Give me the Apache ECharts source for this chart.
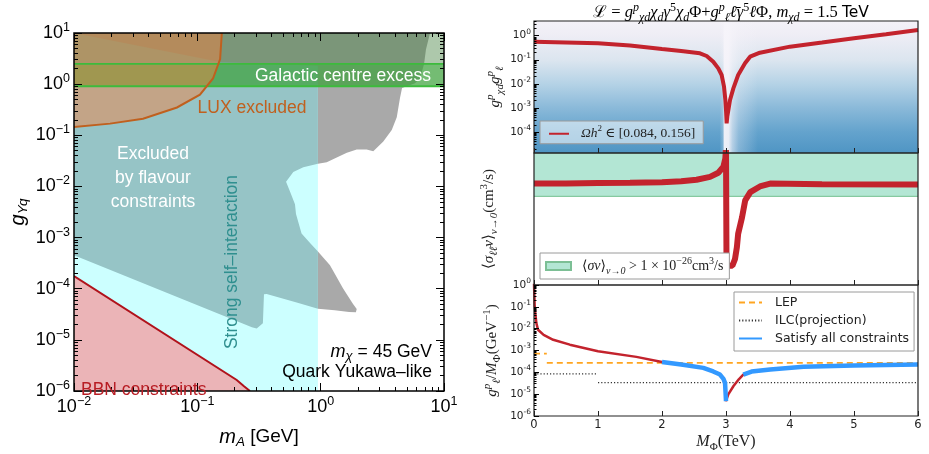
<!DOCTYPE html>
<html>
<head>
<meta charset="utf-8">
<script src="https://cdn.jsdelivr.net/npm/echarts@6.0.0/dist/echarts.min.js"></script>
<style>
html,body{margin:0;padding:0;background:#fff;}
#chart{width:929px;height:454px;}
</style>
</head>
<body>
<div id="chart"></div>
<script>
// ===================== LEFT PANEL DATA: (m_A [GeV], g_Yq) =====================
const selfInteractionRegion = [[0.01,1e-6],[0.95,1e-6],[0.95,10],[0.01,10]];
const grayRegion = [[0.01,10],[7.70,10],[7.14,4.77],[6.89,2.48],[6.39,1.29],[5.82,1.04],[4.57,0.836],[4.40,0.54],[4.14,0.226],[3.77,0.127],[3.22,0.076],[2.67,0.049],[2.36,0.053],[1.96,0.053],[1.63,0.0457],[1.35,0.0367],[1.12,0.0296],[0.95,0.0279],[0.95,1],[0.01,1]];
const grayTongue = [[0.95,5.37e-4],[1.19,2.88e-4],[1.52,1.01e-4],[1.83,5.05e-5],[1.96,4.0e-5],[1.93,3.45e-5],[1.7,3.5e-5],[1.3,3.8e-5],[0.95,4.05e-5]];
const flavourRegion = [[0.01,10],[0.153,2.71],[0.95,2.3],[0.95,0.0279],[0.723,0.0238],[0.600,0.0191],[0.524,0.01237],[0.564,0.0080],[0.619,0.00448],[0.631,0.0029],[0.70,0.0012],[0.82,0.000785],[0.95,0.000537],[0.95,4.05e-5],[0.639,5.35e-5],[0.365,7.9e-5],[0.347,7.8e-5],[0.340,2.11e-5],[0.303,1.67e-5],[0.277,1.77e-5],[0.01,4.52e-4]];
const bbnRegion = [[0.01,1e-6],[0.01,1.76e-4],[0.2086,1.64e-6],[0.239,1.24e-6],[0.267,1e-6]];
const luxRegion = [[0.01,10],[0.01,0.146],[0.0196,0.169],[0.0363,0.21],[0.0684,0.35],[0.105,0.624],[0.134,1.29],[0.153,3.08],[0.158,10]];
const gcUpper = [[0.01,0.91],[10,0.91],[10,10],[0.01,10]];
const gcBand = [[0.01,0.91],[10,0.91],[10,2.48],[0.01,2.48]];
const gcBandLow = [[0.01,0.91],[10,0.91]];
const gcBandHigh = [[0.01,2.48],[10,2.48]];

// ===================== RIGHT PANELS DATA: M_Phi [TeV] =====================
const relicCurve = [[0,0.56],[0.5,0.52],[1,0.48],[1.5,0.39],[2,0.28],[2.3,0.23],[2.593,0.186],[2.698,0.1435],[2.801,0.083],[2.88,0.044],[2.932,0.0233],[2.969,0.0076],[2.99,0.00214],[3.0,8.2e-4],[3.01,2.3e-4],[3.02,4.3e-4],[3.063,0.00214],[3.115,0.0065],[3.19,0.0233],[3.297,0.0714],[3.376,0.134],[3.53,0.197],[4,0.35],[4.5,0.52],[5,0.78],[5.5,1.15],[6,1.72]];
const sigmaCurve = [[0,2.45e-26],[0.5,2.45e-26],[1,2.55e-26],[1.5,2.6e-26],[2,2.7e-26],[2.3,2.9e-26],[2.54,3.2e-26],[2.75,3.9e-26],[2.88,5.2e-26],[2.96,7.9e-26],[2.99,1.4e-25],[3.0,3e-25],[3.008,8e-29],[3.1,8e-29],[3.14,1.26e-28],[3.17,2.9e-28],[3.19,7.4e-28],[3.25,2.3e-27],[3.30,7.6e-27],[3.38,1.35e-26],[3.53,2.0e-26],[3.69,2.45e-26],[4.5,2.35e-26],[6,2.3e-26]];
const sigmaThreshold = [[0,1e-26],[6,1e-26]];
const sigmaRegion = [[0,1e-26],[6,1e-26],[6,2.06e-25],[0,2.06e-25]];
const couplingCurve = [[0,1.2],[0.01,0.12],[0.02,0.051],[0.037,0.018],[0.063,0.0089],[0.15,0.0052],[0.3,0.0031],[0.56,0.00185],[1.0,9.2e-4],[1.6,5.1e-4],[2.0,3.0e-4],[2.3,2.3e-4],[2.645,1.6e-4],[2.8,1.1e-4],[2.906,7.9e-5],[2.96,5e-5],[2.985,3.3e-5],[3.0,4.8e-6],[3.036,9.8e-6],[3.115,2.3e-5],[3.2,4.8e-5],[3.27,7.9e-5],[3.4,1.08e-4],[3.69,1.35e-4],[4.21,1.78e-4],[5,2.05e-4],[6,2.26e-4]];
const satisfyLow = [[2.0,3.0e-4],[2.3,2.3e-4],[2.645,1.6e-4],[2.8,1.1e-4],[2.906,7.9e-5],[2.96,5e-5],[2.985,3.3e-5],[3.0,4.8e-6]];
const satisfyHigh = [[3.27,7.9e-5],[3.4,1.08e-4],[3.69,1.35e-4],[4.21,1.78e-4],[5,2.05e-4],[6,2.26e-4]];
const lepLow = [[0,7.2e-4],[0.2,7.2e-4]];
const lepHigh = [[0.2,2.7e-4],[6,2.7e-4]];
const ilcLow = [[0,8.5e-5],[1,8.5e-5]];
const ilcHigh = [[1,3.4e-5],[6,3.4e-5]];

// ===================== TICKS =====================
const leftXTicks = [0.01,0.1,1,10];
const leftYTicks = [1e-6,1e-5,1e-4,1e-3,1e-2,1e-1,1,10];
const p1YTicks = [1e-4,1e-3,1e-2,1e-1,1];
const p2YTicks = [1e-28,1e-27,1e-26,1e-25];
const p3YTicks = [1e-6,1e-5,1e-4,1e-3,1e-2,1e-1,1];

const P1 = {min:1.345e-5, max:4.07};
const P2 = {min:2.09e-29, max:2.06e-25};
const P3 = {min:1e-6, max:1};

const RELIC = 'Ωh² ∈ [0.084, 0.156]';
const SIGMA = '⟨σv⟩ v→0 > 1 × 10⁻²⁶ cm³/s';
const LEP = 'LEP', ILC = 'ILC(projection)', SAT = 'Satisfy all constraints';

const FS = 'Liberation Sans, Arial, sans-serif';
const MS = 'Liberation Serif, DejaVu Serif, serif';
const DJ = 'DejaVu Sans, sans-serif';

function minorVals(lo, hi, min, max) {
  const out = [];
  for (let e = lo; e < hi; e++) for (let k = 2; k <= 9; k++) {
    const v = k * Math.pow(10, e);
    if (v > min * 1.0001 && v < max * 0.9999) out.push(v);
  }
  return out;
}
function expStr(v, minus) { const e = Math.round(Math.log10(v)); return e < 0 ? minus + (-e) : String(e); }

const richL = {
  b: {fontFamily: FS, fontSize: 18, lineHeight: 24, color: '#000'},
  s: {fontFamily: FS, fontSize: 12.5, lineHeight: 12, verticalAlign: 'top', color: '#000'}
};
const richR = {
  b: {fontFamily: DJ, fontSize: 10.5, lineHeight: 16, color: '#222'},
  s: {fontFamily: DJ, fontSize: 7.5, lineHeight: 8, verticalAlign: 'top', color: '#222'}
};
const nameRichL = {
  i: {fontFamily: FS, fontStyle: 'italic', fontSize: 20, lineHeight: 24, color: '#000'},
  r: {fontFamily: FS, fontSize: 19, lineHeight: 24, color: '#000'},
  sub: {fontFamily: FS, fontStyle: 'italic', fontSize: 13.5, lineHeight: 14, verticalAlign: 'bottom', color: '#000'}
};
function mathRich(size, color) {
  const c = color || '#222';
  const s = Math.round(size * 0.7);
  return {
    i: {fontFamily: MS, fontStyle: 'italic', fontSize: size, lineHeight: size + 6, color: c},
    r: {fontFamily: MS, fontSize: size, lineHeight: size + 6, color: c},
    t: {fontFamily: DJ, fontSize: size - 1, lineHeight: size + 6, color: c},
    sup: {fontFamily: MS, fontStyle: 'italic', fontSize: s, lineHeight: s, verticalAlign: 'top', color: c},
    rsup: {fontFamily: MS, fontSize: s, lineHeight: s, verticalAlign: 'top', color: c},
    sub: {fontFamily: MS, fontStyle: 'italic', fontSize: s, lineHeight: s, verticalAlign: 'bottom', color: c},
    rsub: {fontFamily: MS, fontSize: s, lineHeight: s, verticalAlign: 'bottom', color: c}
  };
}

function regionSeries(points, fill, edges, stroke, lw, xi, yi) {
  return {
    type: 'custom', xAxisIndex: xi || 0, yAxisIndex: yi || 0, silent: true, clip: true,
    data: [points[0]],
    renderItem: function (params, api) {
      const children = [];
      if (fill) children.push({type: 'polygon', shape: {points: points.map(p => api.coord(p))}, style: {fill: fill}});
      (edges || []).forEach(e => children.push({
        type: 'polyline', shape: {points: e.map(p => api.coord(p))},
        style: {stroke: stroke, lineWidth: lw, fill: null}
      }));
      return {type: 'group', children: children};
    }
  };
}

function tickAxis(base, values, len, labels) {
  return Object.assign({
    z: 11, splitLine: {show: false}, axisLine: {show: false},
    axisTick: {show: true, inside: true, length: len, customValues: values, lineStyle: {color: '#000', width: 1}},
    axisLabel: labels || {show: false}
  }, base);
}

const leftX = {type: 'log', logBase: 10, gridIndex: 0, min: 0.01, max: 10};
const leftY = {type: 'log', logBase: 10, gridIndex: 0, min: 1e-6, max: 10};
const lxMinor = minorVals(-2, 1, 0.01, 10);
const lyMinor = minorVals(-6, 1, 1e-6, 10);

const xAxes = [
  tickAxis(Object.assign({}, leftX, {position: 'bottom',
    name: '{i|m}{sub|A}{r| [GeV]}', nameLocation: 'middle', nameGap: 34,
    nameTextStyle: {rich: nameRichL}}), leftXTicks, 8,
    {show: true, customValues: leftXTicks, margin: 4, formatter: v => '{b|10}{s|' + expStr(v, '−') + '}', rich: richL}),
  tickAxis(Object.assign({}, leftX, {position: 'bottom'}), lxMinor, 4),
  tickAxis(Object.assign({}, leftX, {position: 'top'}), leftXTicks, 8),
  tickAxis(Object.assign({}, leftX, {position: 'top'}), lxMinor, 4),
  {type: 'value', gridIndex: 1, min: 0, max: 6, interval: 1, z: 11, position: 'bottom',
    splitLine: {show: false}, axisLine: {show: false}, axisLabel: {show: false},
    axisTick: {inside: true, length: 5, lineStyle: {color: '#222'}}},
  {type: 'value', gridIndex: 2, min: 0, max: 6, interval: 1, z: 11, position: 'bottom',
    splitLine: {show: false}, axisLine: {show: false}, axisLabel: {show: false},
    axisTick: {inside: true, length: 5, lineStyle: {color: '#222'}}},
  {type: 'value', gridIndex: 3, min: 0, max: 6, interval: 1, z: 11, position: 'bottom',
    splitLine: {show: false}, axisLine: {show: false},
    axisLabel: {show: true, margin: 3, fontFamily: DJ, fontSize: 11.5, color: '#222'},
    axisTick: {inside: true, length: 5, lineStyle: {color: '#222'}},
    name: '{i|M}{rsub|Φ}{r|(TeV)}', nameLocation: 'middle', nameGap: 15,
    nameTextStyle: {rich: mathRich(16)}}
];

const p1Minor = minorVals(-5, 1, P1.min, P1.max);
const p2Minor = minorVals(-29, -24, P2.min, P2.max);
const p3Minor = minorVals(-6, 0, P3.min, P3.max);
function rLabel(vals) {
  return {show: true, customValues: vals, margin: 3, formatter: v => '{b|10}{s|' + expStr(v, '-') + '}', rich: richR};
}
function rAxis(grid, range, name, gap) {
  return {type: 'log', logBase: 10, gridIndex: grid, min: range.min, max: range.max, position: 'left',
    name: name, nameLocation: 'middle', nameGap: gap, nameTextStyle: {rich: mathRich(15)}};
}

const yAxes = [
  tickAxis(Object.assign({}, leftY, {position: 'left',
    name: '{i|g}{sub|Yq}', nameLocation: 'middle', nameGap: 44,
    nameTextStyle: {rich: nameRichL}}), leftYTicks, 8,
    {show: true, customValues: leftYTicks, margin: 4, formatter: v => '{b|10}{s|' + expStr(v, '−') + '}', rich: richL}),
  tickAxis(Object.assign({}, leftY, {position: 'left'}), lyMinor, 4),
  tickAxis(Object.assign({}, leftY, {position: 'right'}), leftYTicks, 8),
  tickAxis(Object.assign({}, leftY, {position: 'right'}), lyMinor, 4),
  tickAxis(rAxis(1, P1, '{i|g}{sup|p}{sub|χd}{i|g}{sup|p}{sub|ℓ}', 28), p1YTicks, 5, rLabel(p1YTicks)),
  tickAxis({type: 'log', logBase: 10, gridIndex: 1, min: P1.min, max: P1.max, position: 'left'}, p1Minor, 2.5),
  tickAxis(rAxis(2, P2, '{r|⟨}{i|σ}{sub|ℓℓ̄}{i|v}{r|⟩}{sub|v→0}{r|(cm}{rsup|3}{r|/s)}', 34), p2YTicks, 5, rLabel(p2YTicks)),
  tickAxis({type: 'log', logBase: 10, gridIndex: 2, min: P2.min, max: P2.max, position: 'left'}, p2Minor, 2.5),
  tickAxis(rAxis(3, P3, '{i|g}{sup|p}{sub|ℓ}{r|/}{i|M}{rsub|Φ}{r|(GeV}{rsup|−1}{r|)}', 31), p3YTicks, 5, rLabel(p3YTicks)),
  tickAxis({type: 'log', logBase: 10, gridIndex: 3, min: P3.min, max: P3.max, position: 'left'}, p3Minor, 2.5)
];

const RED = '#c3232d', BLUE = '#3399ff';

const gradV = {type: 'linear', x: 0, y: 0, x2: 0, y2: 1, colorStops: [
  {offset: 0, color: '#f4f2f8'}, {offset: 0.11, color: '#eeedf5'}, {offset: 0.30, color: '#dbe5ef'},
  {offset: 0.48, color: '#b4d2e6'}, {offset: 0.66, color: '#8ab9d9'}, {offset: 0.84, color: '#64a3cd'},
  {offset: 1, color: '#4f95c4'}]};
const gradH = {type: 'linear', x: 0, y: 0, x2: 1, y2: 0, colorStops: [
  {offset: 0, color: 'rgba(246,244,250,0)'}, {offset: 0.092, color: 'rgba(246,244,250,0.25)'},
  {offset: 0.117, color: 'rgba(246,244,250,0.95)'}, {offset: 0.233, color: 'rgba(246,244,250,0.92)'},
  {offset: 0.333, color: 'rgba(246,244,250,0.6)'}, {offset: 0.5, color: 'rgba(246,244,250,0.3)'},
  {offset: 1, color: 'rgba(246,244,250,0)'}]};

const sigmaArea = regionSeries(sigmaRegion, '#b3e6d4', [sigmaThreshold], '#86c9a0', 1.2, 5, 6);
sigmaArea.z = 1;

const series = [
  regionSeries(selfInteractionRegion, '#ccffff'),
  regionSeries(grayRegion, '#a9a9a9'),
  regionSeries(grayTongue, '#a9a9a9'),
  regionSeries(flavourRegion, '#96c4c6'),
  regionSeries(bbnRegion, '#ebb4b7', [bbnRegion.slice(1)], '#b0121b', 2),
  regionSeries(gcUpper, 'rgba(60,125,55,0.42)'),
  regionSeries(gcBand, 'rgba(60,175,60,0.5)'),
  regionSeries(luxRegion, 'rgba(250,127,58,0.45)'),
  regionSeries(gcBand, null, [gcBandLow, gcBandHigh], '#3cbb3c', 1.8),
  regionSeries(luxRegion, null, [luxRegion.slice(1)], '#c0601e', 2),
  // panel 1
  {type: 'line', xAxisIndex: 4, yAxisIndex: 4, data: [], z: 1, silent: true,
    markArea: {silent: true, label: {show: false}, itemStyle: {opacity: 1},
      data: [
        [{xAxis: 0, itemStyle: {color: gradV, opacity: 1}}, {xAxis: 6}],
        [{xAxis: 2.9, itemStyle: {color: gradH, opacity: 1}}, {xAxis: 3.5}]
      ]}},
  {type: 'line', name: RELIC, xAxisIndex: 4, yAxisIndex: 4, data: relicCurve, symbol: 'none', z: 3,
    lineStyle: {color: RED, width: 4}, itemStyle: {color: RED}},
  // panel 2
  sigmaArea,
  {type: 'line', name: SIGMA, xAxisIndex: 5, yAxisIndex: 6, data: [], symbol: 'none', z: 2,
    lineStyle: {color: '#86c9a0', width: 1}, itemStyle: {color: '#b3e6d4', borderColor: '#7cbf95', borderWidth: 1}},
  {type: 'line', xAxisIndex: 5, yAxisIndex: 6, data: sigmaCurve, symbol: 'none', z: 3,
    lineStyle: {color: RED, width: 6}, itemStyle: {color: RED}},
  // panel 3
  {type: 'line', name: LEP, xAxisIndex: 6, yAxisIndex: 8, data: lepLow, symbol: 'none', z: 3,
    lineStyle: {color: '#ffa521', width: 1.6, type: [6, 4]}, itemStyle: {color: '#ffa521'}},
  {type: 'line', name: LEP, xAxisIndex: 6, yAxisIndex: 8, data: lepHigh, symbol: 'none', z: 3,
    lineStyle: {color: '#ffa521', width: 1.6, type: [6, 4]}, itemStyle: {color: '#ffa521'}},
  {type: 'line', name: ILC, xAxisIndex: 6, yAxisIndex: 8, data: ilcLow, symbol: 'none', z: 3,
    lineStyle: {color: '#333', width: 1.2, type: [1.2, 2]}, itemStyle: {color: '#333'}},
  {type: 'line', name: ILC, xAxisIndex: 6, yAxisIndex: 8, data: ilcHigh, symbol: 'none', z: 3,
    lineStyle: {color: '#333', width: 1.2, type: [1.2, 2]}, itemStyle: {color: '#333'}},
  {type: 'line', xAxisIndex: 6, yAxisIndex: 8, data: couplingCurve, symbol: 'none', z: 4,
    lineStyle: {color: RED, width: 2.5}, itemStyle: {color: RED}},
  {type: 'line', name: SAT, xAxisIndex: 6, yAxisIndex: 8, data: satisfyLow, symbol: 'none', z: 5,
    lineStyle: {color: BLUE, width: 4.5}, itemStyle: {color: BLUE}},
  {type: 'line', name: SAT, xAxisIndex: 6, yAxisIndex: 8, data: satisfyHigh, symbol: 'none', z: 5,
    lineStyle: {color: BLUE, width: 4.5}, itemStyle: {color: BLUE}}
];

const legendFmt = {};
legendFmt[RELIC] = '{i|Ωh}{rsup|2}{r| ∈ [0.084, 0.156]}';
legendFmt[SIGMA] = '{r|⟨}{i|σv}{r|⟩}{sub|v→0}{r| > 1 × 10}{rsup|−26}{r|cm}{rsup|3}{r|/s}';

const option = {
  animation: false,
  backgroundColor: '#fff',
  grid: [
    {left: 74, top: 33, width: 370, height: 370, show: true, z: 10, backgroundColor: 'transparent', borderColor: '#000', borderWidth: 1.5},
    {left: 534, top: 21, width: 384, height: 132, show: true, z: 10, backgroundColor: 'transparent', borderColor: '#222', borderWidth: 1.2},
    {left: 534, top: 153, width: 384, height: 132, show: true, z: 10, backgroundColor: 'transparent', borderColor: '#222', borderWidth: 1.2},
    {left: 534, top: 285, width: 384, height: 132, show: true, z: 10, backgroundColor: 'transparent', borderColor: '#222', borderWidth: 1.2}
  ],
  xAxis: xAxes,
  yAxis: yAxes,
  legend: [
    {data: [RELIC], left: 540, top: 121, orient: 'vertical', selectedMode: false, z: 12,
      itemWidth: 20, itemHeight: 10, padding: [3, 8, 3, 8], itemStyle: {opacity: 0},
      backgroundColor: 'rgba(255,255,255,0.55)', borderColor: '#9a9a9a', borderWidth: 1,
      formatter: n => legendFmt[n], textStyle: {padding: [0, 0, 0, 7], rich: mathRich(13.5)}},
    {data: [{name: SIGMA, icon: 'rect'}], left: 540, top: 253, orient: 'vertical', selectedMode: false, z: 12,
      itemWidth: 25, itemHeight: 8, padding: [3, 6, 3, 5],
      backgroundColor: '#fff', borderColor: '#9a9a9a', borderWidth: 1,
      formatter: n => legendFmt[n], textStyle: {padding: [0, 0, 0, 6], rich: mathRich(14)}},
    {data: [LEP, ILC, SAT], left: 734, top: 292, orient: 'vertical', selectedMode: false, z: 12,
      itemWidth: 23, itemHeight: 12, itemGap: 3, padding: [3, 5, 5, 4], itemStyle: {opacity: 0},
      backgroundColor: '#fff', borderColor: '#9a9a9a', borderWidth: 1,
      textStyle: {fontFamily: DJ, fontSize: 12.5, color: '#222', lineHeight: 15, padding: [0, 0, 0, 8]}}
  ],
  graphic: [
    {type: 'text', x: 731, y: 13, z: 20, style: {
      text: '{r|ℒ = }{i|g}{sup|p}{sub|χd}{i|χ}{sub|d}{i|γ}{rsup|5}{i|χ}{sub|d}{r|Φ+}{i|g}{sup|p}{sub|ℓ}{i|ℓ̄γ}{rsup|5}{i|ℓ}{r|Φ, }{i|m}{sub|χd}{r| = 1.5 }{t|TeV}',
      rich: mathRich(16.5, '#000'), align: 'center', verticalAlign: 'middle'}},
    {type: 'text', x: 343, y: 76, z: 20, style: {text: 'Galactic centre excess', font: '17.5px Liberation Sans, Arial', fill: '#fff', align: 'center', verticalAlign: 'middle'}},
    {type: 'text', x: 252, y: 108, z: 20, style: {text: 'LUX excluded', font: '17.5px Liberation Sans, Arial', fill: '#c0601e', align: 'center', verticalAlign: 'middle'}},
    {type: 'text', x: 153, y: 178, z: 20, style: {text: 'Excluded\nby flavour\nconstraints', font: '17.5px Liberation Sans, Arial', lineHeight: 24, fill: '#fff', align: 'center', verticalAlign: 'middle'}},
    {type: 'text', x: 232, y: 262, rotation: Math.PI / 2, z: 20, style: {text: 'Strong self\u2013interaction', font: '17.5px Liberation Sans, Arial', fill: '#2f8f8f', align: 'center', verticalAlign: 'middle'}},
    {type: 'text', x: 432, y: 352, z: 20, style: {text: '{i|m}{sub|χ}{r| = 45 GeV}', rich: {
      i: {fontFamily: FS, fontStyle: 'italic', fontSize: 18, lineHeight: 22, color: '#000'},
      r: {fontFamily: FS, fontSize: 17.5, lineHeight: 22, color: '#000'},
      sub: {fontFamily: FS, fontStyle: 'italic', fontSize: 13, lineHeight: 13, verticalAlign: 'bottom', color: '#000'}},
      align: 'right', verticalAlign: 'middle'}},
    {type: 'text', x: 432, y: 372, z: 20, style: {text: 'Quark Yukawa\u2013like', font: '17.5px Liberation Sans, Arial', fill: '#000', align: 'right', verticalAlign: 'middle'}},
    {type: 'text', x: 81, y: 390, z: 20, style: {text: 'BBN constraints', font: '17.5px Liberation Sans, Arial', fill: '#b81d24', align: 'left', verticalAlign: 'middle'}}
  ],
  series: series
};

const chart = echarts.init(document.getElementById('chart'));
chart.setOption(option);
</script>
</body>
</html>
